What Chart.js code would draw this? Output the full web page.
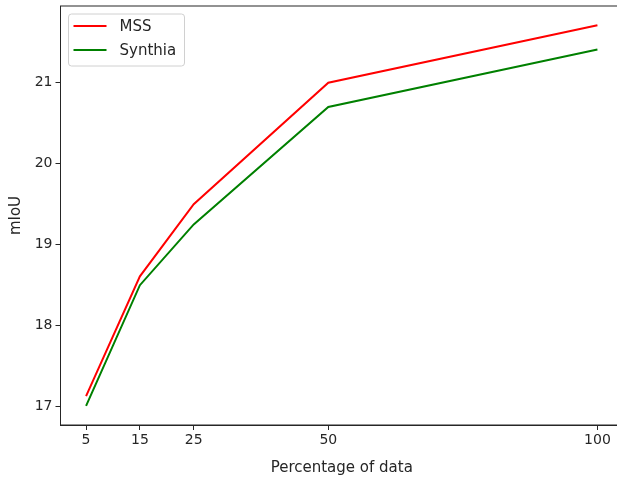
<!DOCTYPE html>
<html>
<head>
<meta charset="utf-8">
<script src="https://cdn.jsdelivr.net/npm/chart.js@4.4.1/dist/chart.umd.min.js"></script>
<style>
  html, body { margin: 0; padding: 0; background: #fff; overflow: hidden; }
  #wrap { width: 617px; height: 477px; overflow: hidden; }
  #box { width: 640px; height: 477px; }
</style>
</head>
<body>
<div id="wrap"><div id="box"><canvas id="myChart"></canvas></div></div>
<script>
const percentages = [5, 15, 25, 50, 100];
const mssValues = [17.13, 18.61, 19.5, 21.0, 21.71];
const synthiaValues = [17.01, 18.5, 19.25, 20.7, 21.41];
const xTicks = [5, 15, 25, 50, 100];
const yTicks = [17, 18, 19, 20, 21];

const tickFont = { family: 'DejaVu Sans', size: 14 };
const titleFont = { family: 'DejaVu Sans', size: 15 };
const ink = '#262626';

// matplotlib-ish frame + legend box drawn on top
const framePlugin = {
  id: 'frame',
  afterDraw(chart) {
    const { ctx, chartArea: a } = chart;
    ctx.save();
    ctx.strokeStyle = ink;
    ctx.lineWidth = 1;
    ctx.strokeRect(a.left, a.top, a.right - a.left, a.bottom - a.top);

    // legend
    const x = a.left + 8, y = a.top + 8, w = 116, h = 52;
    ctx.fillStyle = 'rgba(255,255,255,0.8)';
    ctx.strokeStyle = '#d0d0d0';
    ctx.beginPath();
    ctx.roundRect(x, y, w, h, 3);
    ctx.fill();
    ctx.stroke();
    chart.data.datasets.forEach((ds, i) => {
      const ly = y + 12 + i * 24;
      ctx.strokeStyle = ds.borderColor;
      ctx.lineWidth = 2;
      ctx.beginPath();
      ctx.moveTo(x + 5, ly);
      ctx.lineTo(x + 38, ly);
      ctx.stroke();
      ctx.fillStyle = ink;
      ctx.font = titleFont.size + 'px ' + titleFont.family;
      ctx.textBaseline = 'middle';
      ctx.fillText(ds.label, x + 51, ly + 1);
    });
    ctx.restore();
  }
};

const toData = (vals) => percentages.map((p, i) => ({ x: p, y: vals[i] }));

new Chart(document.getElementById('myChart'), {
  type: 'line',
  data: {
    datasets: [
      { label: 'MSS', data: toData(mssValues), borderColor: '#ff0000', borderWidth: 2, pointRadius: 0, tension: 0 },
      { label: 'Synthia', data: toData(synthiaValues), borderColor: '#008000', borderWidth: 2, pointRadius: 0, tension: 0 },
    ],
  },
  options: {
    responsive: true,
    maintainAspectRatio: false,
    animation: false,
    layout: { padding: { top: 6, right: 17, left: 0, bottom: 0 } },
    plugins: { legend: { display: false }, tooltip: { enabled: false } },
    scales: {
      x: {
        type: 'linear',
        min: 0.25,
        max: 104.75,
        afterBuildTicks: (s) => { s.ticks = xTicks.map(v => ({ value: v })); },
        afterFit: (s) => { s.height = 52; s.paddingLeft = 0; s.paddingRight = 0; },
        ticks: { color: ink, font: tickFont, padding: 2, maxRotation: 0, autoSkip: false },
        grid: { drawOnChartArea: false, tickLength: 5, color: ink },
        border: { color: ink },
        title: { display: true, text: 'Percentage of data', color: ink, font: titleFont, padding: { top: 1, bottom: 0 } },
      },
      y: {
        min: 16.774,
        max: 21.947,
        afterBuildTicks: (s) => { s.ticks = yTicks.map(v => ({ value: v })); },
        afterFit: (s) => { s.width = 60.5; s.paddingTop = 0; s.paddingBottom = 0; },
        ticks: { color: ink, font: tickFont, padding: 3, autoSkip: false },
        grid: { drawOnChartArea: false, tickLength: 5, color: ink },
        border: { color: ink },
        title: { display: true, text: 'mIoU', color: ink, font: titleFont, padding: { top: 7, bottom: 0 } },
      },
    },
  },
  plugins: [framePlugin],
});
</script>
</body>
</html>
